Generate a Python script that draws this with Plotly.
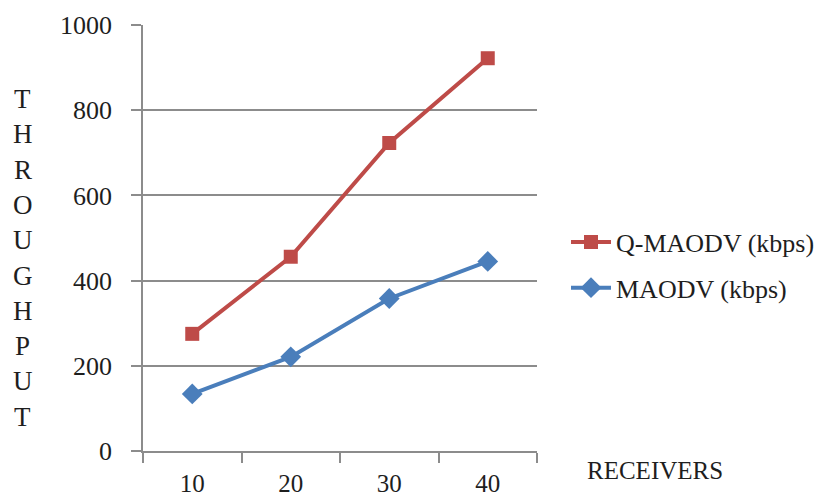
import plotly.graph_objects as go

receivers = [10, 20, 30, 40]
q_maodv = [275, 456, 723, 922]
maodv = [134, 221, 358, 445]
y_ticks = [0, 200, 400, 600, 800, 1000]
y_title = "THROUGHPUT"

FONT = "Liberation Serif"
TXT = "#1E1E1E"
RED = "#BE4B48"
BLUE = "#4A7EBB"
GRID = "#8C8C8C"

W, H = 828, 499
ML, MR, MT, MB = 143, 291, 25, 48
PW, PH = W - ML - MR, H - MT - MB

fig = go.Figure()
fig.add_trace(go.Scatter(
    x=receivers, y=q_maodv, mode="lines+markers", name="Q-MAODV (kbps)",
    legendgroup="q",
    line=dict(color=RED, width=4),
    marker=dict(symbol="square", size=14, color=RED),
))
fig.add_trace(go.Scatter(
    x=receivers, y=maodv, mode="lines+markers", name="MAODV (kbps)",
    legendgroup="m",
    line=dict(color=BLUE, width=4),
    marker=dict(symbol="diamond", size=16, color=BLUE),
))

fig.update_layout(
    width=W, height=H,
    margin=dict(l=ML, r=MR, t=MT, b=MB, autoexpand=False),
    paper_bgcolor="white", plot_bgcolor="white",
    font=dict(family=FONT, size=25, color=TXT),
    legend=dict(
        x=(566 - ML) / PW, y=1 - (265 - MT) / PH, xanchor="left", yanchor="middle",
        font=dict(family=FONT, size=26, color=TXT),
        itemwidth=40, tracegroupgap=9,
        bgcolor="rgba(0,0,0,0)",
    ),
    xaxis=dict(
        range=[5, 45], tickvals=receivers, ticktext=[str(v) for v in receivers],
        showgrid=False, zeroline=False, automargin=False,
        showline=True, linecolor=GRID, linewidth=1.5,
        ticks="outside", ticklen=9, tickcolor="rgba(0,0,0,0)",
        tickfont=dict(family=FONT, size=25, color=TXT),
        minor=dict(tickvals=[5, 15, 25, 35, 45], ticks="outside",
                   ticklen=10, tickcolor=GRID, tickwidth=1.5, showgrid=False),
    ),
    yaxis=dict(
        range=[0, 1000], tickvals=y_ticks, automargin=False,
        showgrid=True, gridcolor=GRID, gridwidth=1.5,
        zeroline=False,
        showline=True, linecolor=GRID, linewidth=1.5,
        ticks="outside", ticklen=10, tickcolor=GRID, tickwidth=1.5,
        ticklabelstandoff=14,
        tickfont=dict(family=FONT, size=26, color=TXT),
    ),
)

# Vertical axis title, stacked one letter per line
top_px, step_px = 99, 35.3
for i, ch in enumerate(y_title):
    ypx = top_px + i * step_px
    fig.add_annotation(
        text=ch, xref="paper", yref="paper",
        x=(23 - ML) / PW, y=1 - (ypx - MT) / PH,
        xanchor="center", yanchor="middle", showarrow=False,
        font=dict(family=FONT, size=27, color=TXT),
    )

fig.add_annotation(
    text="RECEIVERS", xref="paper", yref="paper",
    x=(655 - ML) / PW, y=1 - (470 - MT) / PH,
    xanchor="center", yanchor="middle", showarrow=False,
    font=dict(family=FONT, size=25, color=TXT),
)

fig.write_html("out.html")
